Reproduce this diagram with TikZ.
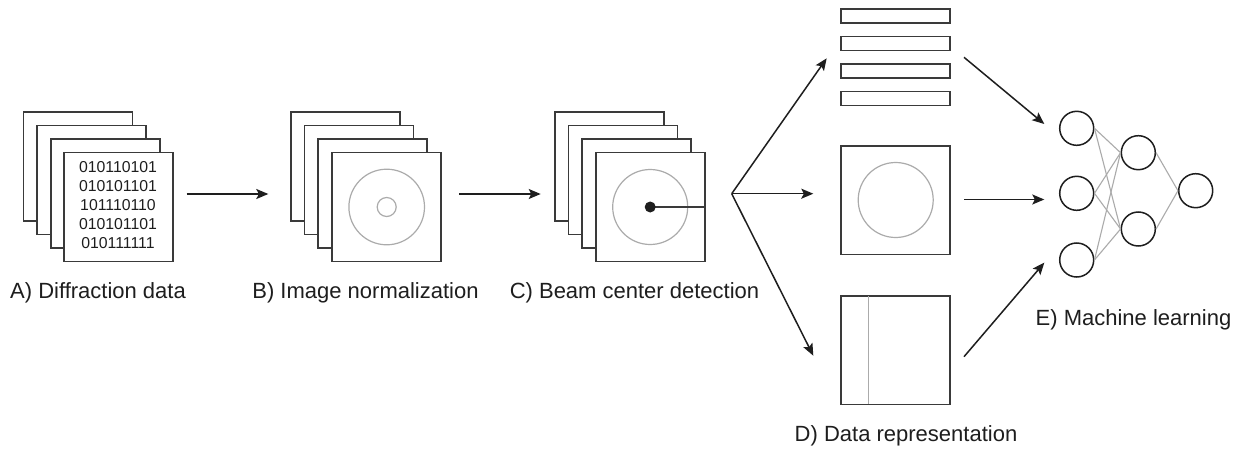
\documentclass[tikz,border=0pt]{standalone}
\usepackage{fontspec}
\setmainfont{Liberation Sans}
\usetikzlibrary{arrows.meta}
\definecolor{dk}{HTML}{3A3A3A}
\definecolor{lg}{HTML}{ABABAB}
\definecolor{ar}{HTML}{1E1E1E}
\tikzset{
  sheet/.style={draw=dk, line width=1.6pt, fill=white, minimum width=109pt, minimum height=109pt, inner sep=0pt},
  bar/.style={draw=dk, line width=1.6pt, fill=white, minimum width=109pt, minimum height=14pt, inner sep=0pt},
  neuron/.style={circle, draw=ar, line width=1.5pt, minimum size=34pt, inner sep=0pt},
  ring/.style={draw=lg, line width=1.2pt},
  link/.style={draw=lg, line width=1.1pt},
  flow/.style={draw=ar, line width=1.5pt, -{Stealth[length=12pt,width=10pt,inset=2.5pt]}},
  lab/.style={font=\fontsize{22}{26}\selectfont, anchor=base, text=ar, inner sep=0pt},
  bits/.style={font=\fontsize{15.8}{19}\selectfont, align=center, text=ar, inner sep=0pt}
}
\begin{document}
\begin{tikzpicture}[x=1pt,y=-1pt]
\useasboundingbox[fill=white] (0,0) rectangle (1249,452);
% Stack A
\node[sheet] (a1) at (78,166.2) {};
\node[sheet] (a2) at (91.6,179.8) {};
\node[sheet] (a3) at (105.2,193.4) {};
\node[sheet] (a4) at (118.7,207) {};
\node[bits] (abits) at (118,205.5) {010110101\\010101101\\101110110\\010101101\\010111111};
\node[lab] (la) at (98,298) {A) Diffraction data};
% Stack B
\node[sheet] (b1) at (345.3,166.2) {};
\node[sheet] (b2) at (358.9,179.8) {};
\node[sheet] (b3) at (372.5,193.4) {};
\node[sheet] (b4) at (386.7,207) {};
\draw[ring] (b4.center) circle[radius=37.8];
\draw[ring] (b4.center) circle[radius=9.5];
\node[lab] (lb) at (365.5,298) {B) Image normalization};
% Stack C
\node[sheet] (c1) at (609.3,166.2) {};
\node[sheet] (c2) at (622.9,179.8) {};
\node[sheet] (c3) at (636.5,193.4) {};
\node[sheet] (c4) at (650.2,207) {};
\draw[ring] (c4.center) circle[radius=37.5];
\draw[draw=dk, line width=1.6pt] (c4.center) -- (c4.east);
\fill[ar] (c4.center) circle[radius=5.5];
\node[lab] (lc) at (634.5,298) {C) Beam center detection};
% Arrows A->B->C
\coordinate (ab0) at (186.7,194);
\coordinate (ab1) at (268.3,194);
\coordinate (bc0) at (459.3,194);
\coordinate (bc1) at (540.7,194);
\draw[flow] (ab0) -- (ab1);
\draw[flow] (bc0) -- (bc1);
% D panel
\node[bar] (d1) at (895.7,16.3) {};
\node[bar] (d2) at (895.7,43.7) {};
\node[bar] (d3) at (895.7,70.9) {};
\node[bar] (d4) at (895.7,98.3) {};
\node[sheet, minimum height=108.6pt] (dm) at (895.7,200) {};
\draw[ring] (dm.center) circle[radius=37.5];
\node[sheet, minimum height=108.3pt] (db) at (895.7,350.2) {};
\draw[ring] (868.3,296) -- (868.3,404.3);
\node[lab] (ld) at (906,441) {D) Data representation};
% fork
\coordinate (fork) at (731.7,193.7);
\coordinate (ft) at (826.7,58.3);
\coordinate (fm) at (813.3,193.7);
\coordinate (fb) at (813.3,355.7);
\draw[flow] (fork) -- (ft);
\draw[flow] (fork) -- (fm);
\draw[flow] (fork) -- (fb);
% E panel
\node[neuron] (i1) at (1076.7,128.3) {};
\node[neuron] (i2) at (1076.7,193.3) {};
\node[neuron] (i3) at (1076.7,260) {};
\node[neuron] (h1) at (1138.3,152.7) {};
\node[neuron] (h2) at (1138.3,229) {};
\node[neuron] (o1) at (1195.7,190.7) {};
\foreach \i in {i1,i2,i3}{
  \foreach \h in {h1,h2}{
    \draw[link] (\i.east) -- (\h.west);
  }
}
\draw[link] (h1.east) -- (o1.west);
\draw[link] (h2.east) -- (o1.west);
\node[lab] (le) at (1133.5,325) {E) Machine learning};
% arrows into E
\coordinate (et0) at (964,57.3);
\coordinate (et1) at (1044.3,124);
\coordinate (em0) at (964,199.5);
\coordinate (em1) at (1044.3,199.5);
\coordinate (eb0) at (964,356.7);
\coordinate (eb1) at (1044.3,262.7);
\draw[flow] (et0) -- (et1);
\draw[flow] (em0) -- (em1);
\draw[flow] (eb0) -- (eb1);
\end{tikzpicture}
\end{document}
